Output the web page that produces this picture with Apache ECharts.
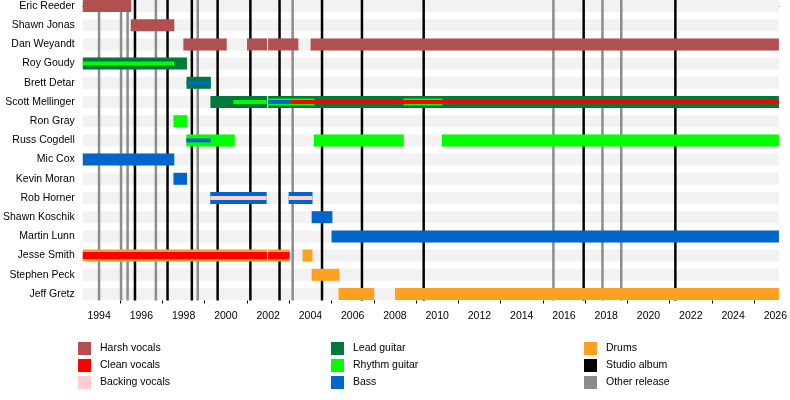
<!DOCTYPE html>
<html>
<head>
<meta charset="utf-8">
<script src="https://cdn.jsdelivr.net/npm/echarts@6/dist/echarts.min.js"></script>
<style>
  html, body { margin: 0; padding: 0; background: #fff; }
  #chart { width: 790px; height: 400px; }
</style>
</head>
<body>
<div id="chart"></div>
<script>
// members, top to bottom
const members = [
  'Eric Reeder', 'Shawn Jonas', 'Dan Weyandt', 'Roy Goudy', 'Brett Detar',
  'Scott Mellinger', 'Ron Gray', 'Russ Cogdell', 'Mic Cox', 'Kevin Moran',
  'Rob Horner', 'Shawn Koschik', 'Martin Lunn', 'Jesse Smith', 'Stephen Peck',
  'Jeff Gretz'
];
const timelineStart = 1993.23;
const timelineEnd = 2026.17;

// [member, from, till, layer]  layer 0 = main role, 1 = second, 2 = third
const harshVocals = [
  ['Eric Reeder', 1993.23, 1995.52, 0],
  ['Shawn Jonas', 1995.5, 1997.56, 0],
  ['Dan Weyandt', 1997.99, 2000.04, 0],
  ['Dan Weyandt', 2001.0, 2001.95, 0],
  ['Dan Weyandt', 2002.0, 2003.43, 0],
  ['Dan Weyandt', 2004.01, 2026.17, 0]
];
const cleanVocals = [
  ['Scott Mellinger', 2003.05, 2026.17, 2],
  ['Jesse Smith', 1993.23, 2001.95, 1],
  ['Jesse Smith', 2002.0, 2003.02, 1]
];
const backingVocals = [
  ['Rob Horner', 1999.26, 2001.93, 2],
  ['Rob Horner', 2002.97, 2004.1, 2]
];
const leadGuitar = [
  ['Roy Goudy', 1993.23, 1998.16, 0],
  ['Brett Detar', 1998.14, 1999.29, 0],
  ['Scott Mellinger', 1999.27, 2001.95, 0],
  ['Scott Mellinger', 2002.0, 2026.17, 0]
];
const rhythmGuitar = [
  ['Roy Goudy', 1993.23, 1997.56, 2],
  ['Scott Mellinger', 2000.36, 2001.93, 2],
  ['Scott Mellinger', 2002.0, 2004.2, 1],
  ['Scott Mellinger', 2008.4, 2010.25, 1],
  ['Ron Gray', 1997.52, 1998.16, 0],
  ['Russ Cogdell', 1998.13, 2000.42, 0],
  ['Russ Cogdell', 2004.16, 2008.42, 0],
  ['Russ Cogdell', 2010.22, 2026.17, 0]
];
const bass = [
  ['Brett Detar', 1998.14, 1999.29, 2],
  ['Scott Mellinger', 2002.0, 2003.05, 2],
  ['Russ Cogdell', 1998.13, 1999.29, 2],
  ['Mic Cox', 1993.23, 1997.56, 0],
  ['Kevin Moran', 1997.52, 1998.16, 0],
  ['Rob Horner', 1999.26, 2001.93, 0],
  ['Rob Horner', 2002.97, 2004.1, 0],
  ['Shawn Koschik', 2004.06, 2005.04, 0],
  ['Martin Lunn', 2005.0, 2026.17, 0]
];
const drums = [
  ['Jesse Smith', 1993.23, 2001.95, 0],
  ['Jesse Smith', 2002.0, 2003.02, 0],
  ['Jesse Smith', 2003.63, 2004.1, 0],
  ['Stephen Peck', 2004.06, 2005.37, 0],
  ['Jeff Gretz', 2005.33, 2007.02, 0],
  ['Jeff Gretz', 2008.0, 2026.17, 0]
];

const studioAlbums = [1995.7, 1997.24, 1998.39, 1999.61, 2001.16, 2002.54,
  2004.55, 2006.44, 2009.36, 2016.93, 2021.27];
const otherReleases = [1994.0, 1995.04, 1995.35, 1996.69, 1998.67, 2003.16,
  2015.5, 2017.82, 2018.71];

const yearLabels = [1994, 1996, 1998, 2000, 2002, 2004, 2006, 2008, 2010,
  2012, 2014, 2016, 2018, 2020, 2022, 2024, 2026];
const oddYears = [1995, 1997, 1999, 2001, 2003, 2005, 2007, 2009, 2011,
  2013, 2015, 2017, 2019, 2021, 2023, 2025];

const layerHeight = [12, 7, 4];
const FONT = '"Liberation Sans", Arial, sans-serif';

function toRows(segs) {
  return segs.map(s => [members.indexOf(s[0]), s[1], s[2], s[3]]);
}

function barSeries(name, color, segs) {
  return {
    type: 'custom',
    name: name,
    itemStyle: { color: color },
    encode: { x: [1, 2], y: 0 },
    data: toRows(segs),
    z: 3,
    renderItem: function (params, api) {
      const row = api.value(0);
      const a = api.coord([api.value(1), row]);
      const b = api.coord([api.value(2), row]);
      const h = layerHeight[api.value(3)];
      return {
        type: 'rect',
        shape: { x: a[0], y: a[1] - h / 2, width: b[0] - a[0], height: h },
        style: { fill: color },
        z2: 10 + api.value(3)
      };
    }
  };
}

function releaseSeries(name, color, years) {
  return {
    type: 'custom',
    name: name,
    itemStyle: { color: color },
    encode: { x: 0 },
    data: years.map(y => [y]),
    z: 2,
    renderItem: function (params, api) {
      const x = api.coord([api.value(0), 0])[0];
      const cs = params.coordSys;
      return {
        type: 'line',
        shape: { x1: x, y1: cs.y, x2: x, y2: cs.y + cs.height },
        style: { stroke: color, lineWidth: 2.5 }
      };
    }
  };
}

// light grey band behind every member row
const stripeSeries = {
  type: 'custom',
  silent: true,
  encode: { y: 0 },
  data: members.map((m, i) => [i]),
  z: 1,
  renderItem: function (params, api) {
    const cs = params.coordSys;
    const y = api.coord([timelineStart, api.value(0)])[1];
    return {
      type: 'rect',
      shape: { x: cs.x, y: y - 6, width: cs.width, height: 12 },
      style: { fill: '#f2f2f2' }
    };
  }
};

function legendCol(left, names) {
  return {
    orient: 'vertical',
    left: left,
    top: 342,
    padding: 0,
    itemWidth: 13,
    itemHeight: 13,
    itemGap: 4,
    icon: 'rect',
    selectedMode: false,
    data: names,
    textStyle: { fontFamily: FONT, fontSize: 10.5, color: '#000', padding: [0, 0, 0, 4] }
  };
}

const chart = echarts.init(document.getElementById('chart'));
chart.setOption({
  animation: false,
  grid: { left: 81, right: 9, top: 0, height: 300.5 },
  xAxis: [
    {
      type: 'value',
      min: timelineStart,
      max: timelineEnd,
      splitLine: { show: false },
      axisLine: { show: true, lineStyle: { color: '#000', width: 1 } },
      axisTick: { show: true, customValues: yearLabels, length: 5, lineStyle: { color: '#000' } },
      axisLabel: {
        customValues: yearLabels,
        fontFamily: FONT, fontSize: 10.5, color: '#000', margin: 10,
        formatter: v => String(v)
      }
    },
    {
      type: 'value',
      position: 'bottom',
      min: timelineStart,
      max: timelineEnd,
      splitLine: { show: false },
      axisLine: { show: false },
      axisTick: { show: true, customValues: oddYears, length: 3, lineStyle: { color: '#000' } },
      axisLabel: { show: false }
    }
  ],
  yAxis: {
    type: 'value',
    inverse: true,
    min: -0.3125,
    max: 15.34,
    splitLine: { show: false },
    axisLine: { show: false },
    axisTick: { show: false },
    axisLabel: {
      customValues: members.map((m, i) => i),
      formatter: v => members[Math.round(v)] || '',
      fontFamily: FONT, fontSize: 10.5, color: '#000', margin: 8
    }
  },
  legend: [
    legendCol(78, ['Harsh vocals', 'Clean vocals', 'Backing vocals']),
    legendCol(331, ['Lead guitar', 'Rhythm guitar', 'Bass']),
    legendCol(584, ['Drums', 'Studio album', 'Other release'])
  ],
  series: [
    stripeSeries,
    releaseSeries('Studio album', '#000000', studioAlbums),
    releaseSeries('Other release', '#8c8c8c', otherReleases),
    barSeries('Harsh vocals', '#b24f50', harshVocals),
    barSeries('Clean vocals', '#ff0000', cleanVocals),
    barSeries('Backing vocals', '#ffcdd2', backingVocals),
    barSeries('Lead guitar', '#007a3a', leadGuitar),
    barSeries('Rhythm guitar', '#00ff00', rhythmGuitar),
    barSeries('Bass', '#0066cc', bass),
    barSeries('Drums', '#ffa020', drums)
  ]
});
</script>
</body>
</html>
